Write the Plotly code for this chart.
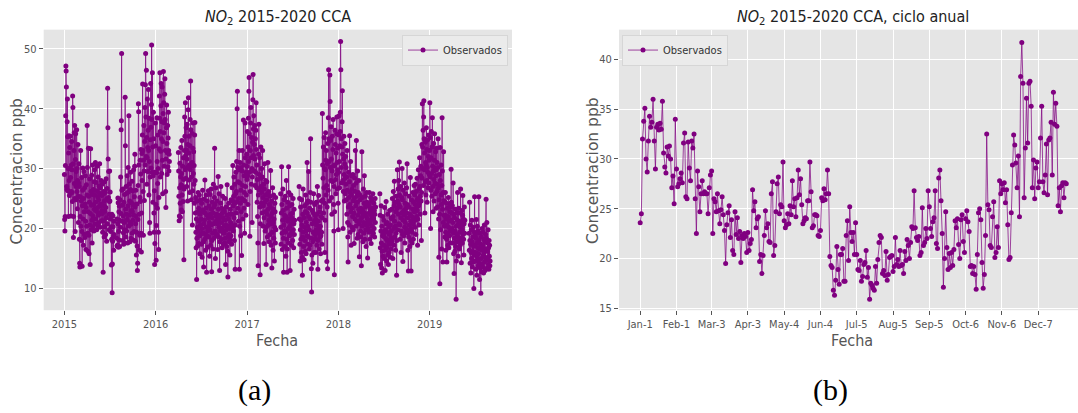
import pandas as pd
import plotly.graph_objects as go

# ---------------- data: panel (a) daily NO2, continuous segments ----------------
segment_starts = ["2015-01-01", "2015-07-29", "2016-04-01", "2017-05-15",
                  "2017-07-28", "2018-06-16", "2019-06-08"]

obs_seg1 = [  # 2015-01-01 .. 2015-07-19
    29.0, 21.5, 19.6, 22.0, 30.5, 38.8, 47.1, 46.3, 43.6, 27.0, 26.5, 37.8, 41.6, 35.3, 26.3, 30.0,
    22.0, 32.6, 35.5, 28.0, 25.5, 33.5, 26.0, 30.0, 35.4, 28.5, 22.1, 26.2, 30.6, 34.5, 29.8,
    26.0, 24.5, 42.1, 40.2, 30.8, 18.5, 22.0, 33.0, 36.0, 27.5, 37.2, 25.0, 19.5, 31.5, 35.8, 27.0,
    29.5, 24.8, 36.5, 26.2, 30.0, 23.3, 28.0, 34.0, 25.4, 21.0, 27.6, 30.8,
    27.0, 18.2, 14.2, 13.6, 22.0, 25.3, 33.0, 20.4, 18.0, 24.6, 28.5, 19.5, 13.7, 23.8, 26.4, 30.1,
    21.6, 17.2, 25.0, 29.5, 22.8, 19.0, 26.8, 18.5, 24.1, 28.8, 21.2, 16.5, 23.5, 27.3, 20.4,
    25.6, 37.2, 30.2, 19.2, 16.2, 22.8, 33.4, 25.4, 18.9, 15.8, 24.4, 28.3, 20.6, 14.0, 22.5, 33.3,
    26.2, 19.8, 23.9, 28.9, 21.4, 17.6, 25.7, 30.6, 22.1, 20.3, 26.5, 24.0, 19.6, 27.8,
    23.2, 29.8, 20.8, 25.6, 31.0, 24.4, 21.6, 27.7, 22.9, 19.8, 26.3, 30.4, 23.5, 20.5, 25.2, 28.6,
    22.2, 24.8, 27.1, 21.0, 25.9, 30.8, 23.7, 20.2, 26.8, 22.6, 24.1, 28.0, 21.3, 25.5, 23.0,
    27.4, 22.5, 19.4, 25.8, 12.7, 21.3, 26.2, 23.8, 18.6, 24.6, 27.8, 20.3, 22.9, 26.0, 19.0, 23.5,
    28.3, 21.8, 17.9, 24.9, 26.7, 20.8, 43.4, 36.8, 31.6, 25.2, 29.5, 22.4, 19.8, 24.5,
    29.6, 24.6, 26.1, 21.6, 19.5, 22.2, 20.3, 13.9, 18.2, 22.4, 9.3, 14.1, 17.9, 22.1, 20.3, 18.6,
    16.4, 21.2, 19.0,
]
obs_seg2 = [  # 2015-07-29 .. 2016-02-25
    18.4, 21.6, 17.1,
    17.2, 20.8, 25.1, 24.3, 16.9, 19.5, 22.8, 18.1, 23.7, 17.0, 21.4, 24.8, 20.2, 28.6, 22.5, 36.5,
    38.0, 49.2, 26.4, 21.2, 23.9, 18.0, 26.6, 22.1, 19.3, 17.4, 24.4, 21.0, 19.8, 25.7, 17.6,
    41.9, 33.8, 23.2, 18.6, 27.0, 22.4, 19.6, 25.9, 28.8, 21.5, 17.6, 23.8, 30.2, 26.1, 20.4, 38.8,
    27.4, 22.2, 24.6, 17.8, 21.0, 26.5, 29.4, 20.7, 18.4, 24.3, 23.0, 27.9, 19.2, 22.8,
    26.3, 21.4, 18.1, 24.0, 29.8, 22.2, 19.5, 25.3, 30.4, 32.4, 23.6, 17.9, 20.8, 26.4, 22.0, 15.6,
    19.4, 24.1, 17.1, 13.0, 14.2, 21.5, 27.2, 40.8, 39.5, 30.6, 22.4, 16.4, 18.9, 25.2, 31.4,
    24.5, 29.1, 33.2, 19.2, 16.1, 22.6, 32.5, 28.0, 35.6, 44.1, 33.0, 26.2, 18.9, 31.4, 37.2, 29.6,
    24.7, 34.5, 40.2, 30.6, 44.0, 49.2, 38.6, 32.0, 46.4, 35.2, 27.4, 31.8, 41.6, 33.5,
    29.5, 36.4, 43.2, 33.0, 25.6, 38.4, 31.2, 21.0, 19.2, 28.6, 34.8, 44.2, 36.9, 30.1, 40.7, 50.6,
    38.2, 29.4, 46.0, 33.6, 24.4, 28.8, 39.4, 35.0, 22.6, 19.4, 26.3, 14.0, 17.5, 29.4, 37.6,
    33.8, 24.0, 14.7, 20.5, 29.3, 38.5, 31.2, 23.4, 27.5, 35.6, 30.0, 19.4, 16.5, 25.2, 33.3, 42.1,
    38.4, 46.0, 36.2, 28.6, 32.9, 40.5, 44.2, 35.0, 29.2, 37.8, 43.6, 31.4, 25.8, 34.5, 39.2,
    46.2, 41.0, 36.0, 30.4, 37.6, 42.4, 45.0, 38.2, 33.0, 26.2, 23.5, 31.6, 36.8, 40.6, 34.2, 29.0,
    32.6, 37.2, 30.3, 35.1, 39.4, 33.0, 29.6, 32.4, 31.2,
]
obs_seg3 = [  # 2016-04-01 .. 2017-04-26
    32.7, 29.6, 25.4, 21.3, 22.1, 26.8, 30.9, 24.2, 21.9, 28.6, 33.5, 27.3, 23.1, 29.2, 34.7, 25.6,
    22.8, 30.4, 27.0, 24.5, 31.8, 28.2, 14.8, 26.6, 33.0, 38.6, 35.4, 29.8, 41.0, 32.2,
    28.4, 36.8, 33.1, 27.0, 31.6, 37.4, 30.2, 24.6, 34.0, 39.8, 41.8, 32.6, 28.1, 35.4, 30.6, 26.0,
    33.8, 38.2, 29.8, 44.6, 36.5, 30.4, 24.8, 28.6, 35.9, 31.0, 20.6, 26.3, 33.4, 37.6, 29.2,
    32.8, 27.4, 30.5, 24.2, 35.6, 37.7, 28.0, 22.6, 25.2, 19.4, 16.8, 21.6, 11.5, 18.4, 24.6, 20.2,
    17.1, 22.8, 26.0, 19.6, 23.4, 17.5, 21.2, 25.6, 18.8, 15.8, 22.4, 20.6, 24.8, 19.1,
    21.6, 17.4, 24.2, 20.0, 15.2, 22.8, 26.4, 19.3, 23.1, 17.8, 13.6, 20.8, 24.9, 21.4, 18.2, 28.1,
    22.6, 19.0, 16.4, 23.4, 25.6, 20.2, 12.7, 18.8, 22.2, 24.6, 19.6, 16.9, 21.8, 26.3, 20.4,
    18.6, 23.8, 21.0, 15.4, 19.8, 25.7, 22.4, 17.2, 20.6, 26.6, 23.2, 12.8, 18.0, 21.8, 24.4, 19.2,
    16.6, 22.6, 27.4, 20.8, 18.4, 23.6, 25.2, 33.4, 24.0, 19.6, 15.0, 21.2, 26.8, 22.0, 18.8,
    22.4, 19.0, 24.6, 20.8, 16.5, 21.4, 28.7, 23.2, 18.6, 20.2, 25.8, 21.6, 13.0, 17.8, 22.2, 19.6,
    24.2, 27.0, 21.0, 18.2, 23.4, 20.0, 16.8, 22.6, 25.4, 19.4, 21.8, 17.4, 23.0, 20.4,
    19.2, 22.8, 17.6, 21.4, 25.0, 18.4, 14.0, 20.6, 23.6, 19.8, 17.0, 22.2, 27.3, 20.4, 16.2, 11.9,
    18.6, 21.6, 24.2, 19.0, 17.8, 22.4, 20.0, 15.6, 18.2, 23.2, 21.0, 18.8, 24.8, 20.6, 17.4,
    22.4, 26.8, 20.2, 24.6, 30.5, 23.8, 19.6, 25.4, 28.6, 21.8, 18.0, 24.2, 27.4, 13.2, 20.6, 25.8,
    29.4, 22.6, 26.2, 31.2, 24.4, 40.0, 42.9, 30.2, 23.4, 27.8, 21.2, 25.0, 29.8, 33.0,
    13.2, 20.4, 27.6, 31.0, 24.2, 18.8, 26.4, 30.2, 22.8, 15.5, 25.0, 29.6, 33.0, 27.2, 21.6, 24.8,
    38.1, 30.6, 23.4, 28.8, 26.0, 19.2, 24.6, 37.6, 31.8, 27.0, 22.2, 29.4, 25.6, 32.4, 28.2,
    30.4, 36.2, 28.8, 24.0, 33.6, 38.4, 31.2, 42.9, 45.2, 35.8, 29.4, 18.7, 26.2, 33.0, 37.6, 40.2,
    31.8, 27.4, 35.2, 30.0, 21.0, 28.6, 34.4, 41.5, 45.7, 36.6, 32.2, 38.8, 29.6, 34.0, 37.2,
    31.6, 27.2, 35.0, 29.4, 36.4, 41.0, 33.2, 26.8, 30.6, 24.4, 28.2, 22.0, 17.6, 13.8, 25.6, 32.4,
    37.4, 29.0, 26.4, 31.8, 23.6, 12.3, 20.8, 28.4, 33.6, 27.0, 24.2, 30.0,
    26.0, 22.6, 28.6, 33.0, 25.2, 20.4, 23.8, 27.4, 17.5, 21.8, 26.6, 30.8, 24.4, 19.6, 22.8, 28.0,
    25.6, 14.0, 20.2, 24.8, 27.8, 22.4, 18.6, 25.8, 31.0, 23.2, 20.6, 26.2, 21.4, 17.8, 24.0,
    21.2, 25.4, 19.0, 23.6, 29.7, 22.0, 17.2, 20.8, 24.6, 13.4, 19.4, 22.6, 26.8, 21.0, 16.4, 23.2,
    25.6, 18.4, 21.6, 14.6, 20.2, 24.2, 22.8, 17.6, 25.2, 19.8,
]
obs_seg4 = [  # 2017-05-15 .. 2017-07-10
    25.8, 20.2, 17.4, 22.6, 30.3, 24.0, 19.2, 16.5, 21.4, 26.6, 23.0, 18.4, 12.7, 20.6, 24.8, 19.6,
    22.2,
    17.0, 21.8, 25.4, 19.4, 15.4, 22.0, 28.0, 23.4, 18.2, 12.7, 16.6, 21.2, 24.4, 20.0, 17.6, 30.3,
    26.0, 21.6, 18.8, 23.8, 20.4, 13.0, 19.0, 22.4, 25.6, 20.8, 17.2, 21.8, 24.0, 19.6,
    22.6, 18.0, 21.2, 25.0, 19.8, 16.8, 20.8, 23.2, 19.0, 21.4,
]
obs_seg5 = [  # 2017-07-28 .. 2018-05-30
    27.0, 21.6, 25.0, 17.4,
    14.6, 19.8, 23.6, 18.2, 21.4, 16.0, 24.8, 20.6, 15.2, 12.2, 18.6, 22.4, 26.6, 19.4, 17.0, 21.8,
    14.8, 20.2, 23.8, 18.0, 16.2, 22.8, 25.6, 19.6, 15.8, 21.0, 24.2, 18.8, 31.0, 22.6, 17.4,
    20.4, 24.6, 18.6, 29.5, 22.0, 16.6, 19.8, 23.4, 17.2, 21.6, 26.0, 35.0, 24.4, 18.4, 13.3, 9.4,
    15.6, 20.8, 23.0, 17.8, 14.2, 19.4, 22.6, 25.8, 18.2, 16.0, 21.2, 24.0, 19.0, 22.2,
    18.4, 21.6, 16.0, 19.8, 24.4, 20.6, 17.2, 22.4, 27.0, 19.2, 13.2, 18.0, 21.2, 25.5, 20.0, 16.6,
    19.6, 22.8, 18.6, 23.6, 20.4, 15.8, 18.8, 22.0, 24.6, 19.4, 17.4, 21.8, 39.2, 30.6, 24.8,
    28.4, 33.6, 22.6, 26.8, 35.2, 30.0, 24.2, 16.0, 21.4, 29.8, 36.0, 31.4, 25.6, 33.0, 27.2, 14.5,
    23.6, 30.8, 13.3, 34.2, 26.4, 38.5, 46.5, 35.0, 31.2, 24.6, 34.6, 45.6, 41.2, 30.2,
    34.8, 28.0, 37.0, 31.6, 25.2, 22.4, 29.6, 35.4, 27.8, 33.2, 38.2, 30.4, 24.0, 19.6, 27.0, 12.3,
    22.8, 30.6, 36.4, 34.0, 28.2, 25.8, 32.6, 29.0, 35.8, 38.6, 31.0, 26.6, 33.4, 29.8, 24.2,
    19.8, 29.4, 35.6, 38.8, 31.2, 26.8, 33.8, 36.2, 39.4, 51.2, 46.5, 35.0, 30.2, 27.6, 33.6, 37.8,
    43.0, 32.4, 28.0, 20.0, 26.2, 31.6, 35.4, 29.0, 24.6, 30.8, 34.2, 28.4, 25.8, 32.0, 27.4,
    30.2, 24.8, 28.6, 22.4, 33.0, 26.4, 21.0, 18.6, 14.4, 23.6, 29.4, 25.2, 20.6, 27.8, 35.5, 24.0,
    19.4, 26.0, 31.2, 22.8, 17.2, 25.6, 28.8, 23.4, 20.2, 26.6, 22.0, 29.0,
    24.6, 19.8, 27.2, 22.6, 17.5, 25.0, 28.4, 21.6, 26.2, 33.0, 23.8, 20.4, 27.6, 34.7, 25.4, 21.2,
    18.4, 24.4, 29.6, 22.2, 19.0, 26.0, 23.2, 28.0, 20.8, 15.3, 22.8, 25.6, 21.4, 24.8, 19.6,
    23.4, 18.6, 13.8, 21.8, 32.8, 25.2, 20.4, 23.0, 17.8, 22.4, 26.6, 21.0, 19.2, 24.2, 28.8, 22.6,
    18.2, 20.8, 25.4, 23.6, 19.8, 17.0, 22.0, 26.0, 20.6, 24.4, 21.6, 15.1, 20.0, 23.8,
    21.2, 24.0, 19.4, 22.6, 26.0, 20.8, 18.2, 23.2, 21.4, 25.2, 19.6, 17.5, 22.2, 24.6, 20.4, 23.4,
    21.8, 18.8, 25.8, 22.8, 19.2, 21.6, 24.2, 20.0, 23.0, 18.6, 22.4, 25.0, 21.0, 23.6,
]
obs_seg6 = [  # 2018-06-16 .. 2019-05-22
    25.8, 22.2, 16.8, 14.0, 19.6, 23.8, 17.6, 13.4, 20.4, 16.2, 12.6, 18.8, 22.0, 15.4, 19.2,
    17.2, 21.4, 15.0, 18.6, 23.5, 16.4, 13.0, 19.8, 17.0, 20.8, 24.5, 18.2, 14.6, 16.8, 21.0, 19.4,
    15.6, 22.4, 18.0, 14.0, 17.6, 20.2, 16.0, 19.0, 23.0, 17.4, 15.2, 20.6, 18.4, 21.8, 16.6,
    19.6, 23.2, 17.8, 21.6, 25.0, 18.4, 15.0, 22.0, 26.2, 20.0, 17.2, 23.8, 27.9, 21.2, 18.6, 24.4,
    20.4, 16.4, 22.8, 19.2, 25.4, 12.2, 18.0, 23.4, 29.8, 24.6, 19.8, 26.6, 22.4, 28.0, 20.8,
    24.0, 31.1, 25.6, 20.6, 18.2, 23.6, 27.0, 21.8, 16.0, 19.6, 25.2, 22.6, 30.0, 24.8, 19.0, 14.5,
    21.4, 26.4, 23.0, 18.8, 22.2, 27.6, 20.2, 17.6, 24.2, 21.0, 25.8, 19.4, 23.4, 20.0,
    26.8, 22.6, 30.8, 24.0, 19.2, 16.4, 21.8, 12.9, 18.6, 23.6, 20.6, 25.4, 19.8, 17.0, 22.4, 28.5,
    21.2, 18.0, 12.9, 20.0, 24.8, 22.0, 17.6, 19.4, 23.2, 26.0, 20.8, 18.2, 24.4, 21.6, 27.2,
    22.8, 25.6, 20.2, 24.0, 27.4, 21.4, 19.0, 23.4, 26.2, 22.0, 24.8, 28.4, 23.0, 17.2, 21.6, 25.0,
    29.8, 23.8, 20.6, 26.6, 24.2, 31.8, 27.0, 22.4, 25.4, 28.8, 30.4, 24.6, 18.0, 26.0,
    34.0, 28.4, 40.8, 33.6, 30.0, 36.4, 27.2, 38.6, 41.3, 35.0, 29.8, 32.6, 22.6, 27.8, 34.4, 31.0,
    25.6, 30.6, 36.8, 33.2, 28.0, 24.4, 30.2, 34.8, 29.4, 26.8, 32.0, 35.6, 27.6, 31.4, 29.0,
    33.0, 41.0, 35.2, 28.6, 20.0, 26.4, 31.8, 36.2, 29.2, 25.4, 33.6, 38.5, 30.4, 27.0, 22.8, 29.6,
    34.2, 28.2, 24.6, 31.4, 35.8, 27.6, 30.0, 25.8, 32.8, 28.8, 23.4, 29.8, 33.4, 26.2, 31.0,
    27.4, 23.6, 30.2, 35.0, 26.8, 21.6, 15.2, 24.8, 29.0, 22.4, 10.8, 33.5, 28.0, 19.8, 25.6, 30.6,
    24.0, 16.6, 27.2, 38.5, 29.6, 23.2, 14.4, 26.0, 21.0, 32.8, 24.6, 22.2,
    20.4, 24.6, 18.6, 22.2, 26.0, 19.4, 16.4, 21.6, 24.2, 18.2, 14.4, 20.6, 23.4, 19.0, 17.2, 22.0,
    25.2, 20.2, 16.8, 21.2, 24.0, 18.8, 22.8, 19.6, 17.6, 23.6, 21.4, 29.9, 24.4, 19.8, 22.6,
    20.0, 23.8, 17.6, 21.0, 27.6, 19.2, 15.8, 22.4, 12.5, 18.4, 21.8, 16.2, 19.6, 23.2, 17.0, 20.4,
    8.2, 14.6, 19.0, 22.6, 17.8, 21.4, 26.0, 18.6, 15.4, 20.8, 23.4, 18.0, 21.2, 16.6,
    19.4, 22.6, 17.2, 20.2, 26.6, 21.0, 18.4, 14.3, 19.8, 23.0, 20.6, 17.6, 22.2, 25.5, 19.0, 21.6,
    18.2, 15.6, 20.8, 23.6, 19.2, 21.4,
]
obs_seg7 = [  # 2019-06-08 .. 2019-08-31
    19.2, 16.4, 24.4, 18.0, 14.2, 20.6, 17.4, 12.6, 16.0, 19.8, 15.0, 21.4, 17.8, 13.6, 18.6, 16.2,
    20.2, 14.4, 17.0, 10.0, 15.6, 19.4, 25.3,
    17.2, 14.6, 19.0, 16.0, 13.2, 18.4, 21.5, 15.4, 12.2, 17.6, 20.4, 14.8, 16.8, 19.6, 13.8, 15.8,
    25.3, 18.0, 14.2, 11.5, 16.6, 19.2, 13.4, 17.4, 9.2, 15.0, 18.6, 12.8, 16.4, 20.0, 14.0,
    17.0, 13.6, 19.4, 15.6, 12.6, 18.2, 16.0, 20.6, 14.4, 17.8, 13.0, 15.2, 19.0, 16.6, 24.9, 18.4,
    14.8, 21.0, 16.2, 13.4, 17.6, 15.0, 19.8, 14.0, 16.8, 13.2, 18.0, 15.4, 17.2, 13.8, 14.6,
]
obs_segments = [obs_seg1, obs_seg2, obs_seg3, obs_seg4, obs_seg5, obs_seg6, obs_seg7]
year_ticks = ["2015", "2016", "2017", "2018", "2019"]

# ---------------- data: panel (b) mean annual cycle (day of year) ----------------
cycle_start = "2019-01-01"
cycle_values = [
    23.6, 24.5, 32.0, 33.8, 35.1, 30.0, 28.7, 31.8, 34.3, 33.2, 33.7, 36.0, 31.8, 29.0, 33.2, 33.5,
    32.9, 33.6, 33.0, 35.8, 30.6, 29.2, 28.6, 31.2, 30.3, 31.3, 30.0, 27.1, 28.3, 25.5, 34.0,
    29.0, 27.2, 27.5, 28.0, 28.6, 27.6, 31.6, 32.6, 26.2, 26.0, 31.7, 29.1, 27.8, 31.8, 31.1, 32.5,
    26.0, 22.5, 28.8, 27.2, 24.7, 26.5, 27.8, 26.5, 26.7, 26.5, 26.5, 24.5, 27.1, 28.4,
    28.8, 22.5, 26.0, 25.7, 24.7, 26.5, 24.8, 23.5, 24.9, 26.2, 24.4, 22.8, 19.5, 23.4, 24.6, 25.3,
    22.1, 23.9, 20.8, 20.4, 24.7, 22.4, 24.1, 22.0, 22.7, 19.6, 22.3, 22.0, 22.5, 22.2, 20.6,
    22.6, 20.8, 21.5, 21.9, 26.9, 24.8, 25.7, 23.1, 24.0, 24.2, 19.7, 20.4, 18.5, 20.3, 22.3, 24.8,
    23.1, 23.5, 21.7, 21.6, 26.5, 27.7, 20.3, 21.3, 24.7, 27.5, 28.2, 24.5, 25.4, 25.2, 29.7,
    23.8, 23.1, 23.4, 24.5, 23.5, 25.3, 24.4, 27.8, 25.2, 26.0, 24.2, 26.1, 28.9, 26.4, 28.0, 25.4,
    23.5, 23.8, 24.1, 24.0, 25.8, 25.8, 29.7, 26.7, 23.1, 23.3, 24.4, 24.4, 24.3, 22.3, 22.2,
    22.8, 26.1, 25.8, 27.0, 25.9, 26.5, 28.9, 26.5, 20.2, 19.3, 19.1, 16.8, 16.3, 17.8, 21.2, 18.9,
    17.4, 20.4, 20.4, 21.0, 17.7, 17.7, 22.3, 23.8, 19.8, 25.2, 22.6, 21.7, 22.6, 20.4, 23.6,
    20.4, 18.9, 18.8, 19.8, 17.7, 18.2, 19.4, 19.6, 20.8, 18.1, 19.1, 15.9, 17.5, 17.3, 17.0, 16.8,
    19.2, 17.5, 19.9, 21.6, 22.3, 22.1, 18.5, 18.8, 18.3, 20.7, 17.8, 18.4, 20.1, 20.2, 20.3,
    18.7, 19.2, 22.1, 19.4, 19.9, 19.2, 20.8, 19.3, 19.4, 18.5, 20.7, 19.8, 21.9, 21.3, 20.0, 21.6,
    23.2, 23.0, 26.8, 23.1, 22.1, 21.8, 22.2, 20.3, 20.6, 25.1, 21.3, 21.6, 23.0, 22.0, 26.8,
    25.2, 23.0, 22.2, 23.7, 24.1, 26.8, 21.5, 21.0, 28.1, 28.9, 25.8, 22.5, 17.1, 20.0, 24.7, 21.1,
    18.9, 20.5, 19.1, 20.6, 19.3, 20.9, 23.8, 23.1, 24.0, 21.4, 20.0, 23.9, 24.4, 21.7, 20.6,
    24.0, 24.8, 23.7, 22.7, 19.2, 19.3, 18.5, 19.2, 18.4, 16.9, 20.4, 24.6, 25.0, 23.9, 19.6, 17.0,
    18.4, 22.3, 32.5, 25.4, 24.9, 21.3, 21.1, 24.2, 25.7, 20.1, 20.6, 23.2, 21.1, 27.8, 26.5,
    27.5, 26.9, 27.6, 25.6, 26.9, 23.4, 19.9, 20.1, 24.6, 29.4, 32.4, 31.4, 29.6, 27.1, 30.3, 24.2,
    38.3, 41.7, 37.6, 26.1, 31.1, 36.1, 31.6, 37.6, 37.8, 35.3, 27.1, 29.9, 26.0, 29.1, 29.7,
    27.1, 27.7, 32.1, 35.3, 27.7, 26.6, 28.4, 31.5, 26.4, 31.9, 32.1, 33.7, 28.4, 36.7, 33.5, 35.6,
    33.3, 25.3, 27.1, 24.7, 27.3, 27.6, 26.1, 27.6, 27.5,
]
cycle_tick_labels = ["Jan-1", "Feb-1", "Mar-3", "Apr-3", "May-4", "Jun-4",
                     "Jul-5", "Aug-5", "Sep-5", "Oct-6", "Nov-6", "Dec-7"]

# ---------------- styling ----------------
W, H = 1078, 413
PURPLE = "#800080"
LINE_COL = "rgba(128,0,128,0.72)"
NARROW = "Liberation Sans Narrow, DejaVu Sans Condensed, Roboto Condensed, Arial Narrow, sans-serif"
GRAY = "#555555"

def px_x(v):
    return v / W

def px_y(v):
    return 1 - v / H

# build panel (a) x/y with breaks between segments
x_a, y_a = [], []
for start, vals in zip(segment_starts, obs_segments):
    if x_a:
        x_a.append(None)
        y_a.append(None)
    dates = pd.date_range(start, periods=len(vals), freq="D")
    x_a += list(dates.strftime("%Y-%m-%d"))
    y_a += list(vals)

x_b = list(pd.date_range(cycle_start, periods=len(cycle_values), freq="D").strftime("%Y-%m-%d"))
year0 = pd.Timestamp(cycle_start).year
cycle_tickvals = [pd.to_datetime(f"{year0}-{lbl}", format="%Y-%b-%d").strftime("%Y-%m-%d")
                  for lbl in cycle_tick_labels]

fig = go.Figure()
fig.add_trace(go.Scatter(
    x=x_a, y=y_a, mode="lines+markers", name="Observados",
    line=dict(color=LINE_COL, width=1), marker=dict(color=PURPLE, size=5),
    xaxis="x", yaxis="y", legend="legend", connectgaps=False))
fig.add_trace(go.Scatter(
    x=x_b, y=cycle_values, mode="lines+markers", name="Observados",
    line=dict(color=LINE_COL, width=1), marker=dict(color=PURPLE, size=5),
    xaxis="x2", yaxis="y2", legend="legend2"))

axis_style = dict(showgrid=True, gridcolor="white", gridwidth=1, zeroline=False, showline=False,
                  ticks="outside", ticklen=4, tickwidth=1, tickcolor=GRAY,
                  tickfont=dict(family=NARROW, size=11, color=GRAY))

t0 = pd.Timestamp("2015-01-01")
left_range = [(t0 + pd.Timedelta(days=-0.2267 * 365.25)).strftime("%Y-%m-%d %H:%M"),
              (t0 + pd.Timedelta(days=4.9025 * 365.25)).strftime("%Y-%m-%d %H:%M")]
c0 = pd.Timestamp(cycle_start)
right_range = [(c0 + pd.Timedelta(days=-18.1)).strftime("%Y-%m-%d %H:%M"),
               (c0 + pd.Timedelta(days=374.0)).strftime("%Y-%m-%d %H:%M")]

fig.update_layout(
    width=W, height=H, autosize=False,
    margin=dict(l=0, r=0, t=0, b=0),
    paper_bgcolor="white", plot_bgcolor="#E5E5E5",
    showlegend=True,
    xaxis=dict(domain=[px_x(43.7), px_x(512)], type="date", range=left_range,
               tickvals=[f"{y}-01-01" for y in year_ticks], ticktext=year_ticks,
               anchor="y", **axis_style),
    yaxis=dict(domain=[px_y(314), px_y(30)], range=[6.38, 53.18],
               tickvals=[10, 20, 30, 40, 50], anchor="x", **axis_style),
    xaxis2=dict(domain=[px_x(619), 1.0], type="date", range=right_range,
                tickvals=cycle_tickvals, ticktext=cycle_tick_labels,
                anchor="y2", **axis_style),
    yaxis2=dict(domain=[px_y(314), px_y(30)], range=[14.8, 43.0],
                tickvals=[15, 20, 25, 30, 35, 40], anchor="x2", **axis_style),
    legend=dict(x=px_x(508), xanchor="right", y=px_y(35), yanchor="top",
                bgcolor="#EBEBEB", bordercolor="#D6D6D6", borderwidth=1,
                font=dict(family=NARROW, size=11, color="#333333"), itemwidth=30),
    legend2=dict(x=px_x(622), xanchor="left", y=px_y(35), yanchor="top",
                 bgcolor="#EBEBEB", bordercolor="#D6D6D6", borderwidth=1,
                 font=dict(family=NARROW, size=11, color="#333333"), itemwidth=30),
)

def ann(text, x, y, size, family, color, angle=0):
    fig.add_annotation(text=text, x=px_x(x), y=px_y(y), xref="paper", yref="paper",
                       xanchor="center", yanchor="middle", showarrow=False, textangle=angle,
                       font=dict(family=family, size=size, color=color))

ann("<i>NO</i><sub>2</sub> 2015-2020 CCA", 277.9, 17.5, 16, NARROW, "#222222")
ann("<i>NO</i><sub>2</sub> 2015-2020 CCA, ciclo anual", 852.5, 17.5, 16, NARROW, "#222222")
ann("Concentracion ppb", 16.7, 173, 15.5, "DejaVu Sans", GRAY, -90)
ann("Concentracion ppb", 593, 173, 15.5, "DejaVu Sans", GRAY, -90)
ann("Fecha", 276.6, 344.7, 16, NARROW, GRAY)
ann("Fecha", 852, 344.7, 16, NARROW, GRAY)
ann("(a)", 254, 395, 30, "Liberation Serif", "#000000")
ann("(b)", 830, 395, 30, "Liberation Serif", "#000000")

fig.write_html("out.html", config={"displayModeBar": False},
               post_script="document.body.style.margin='0';")
